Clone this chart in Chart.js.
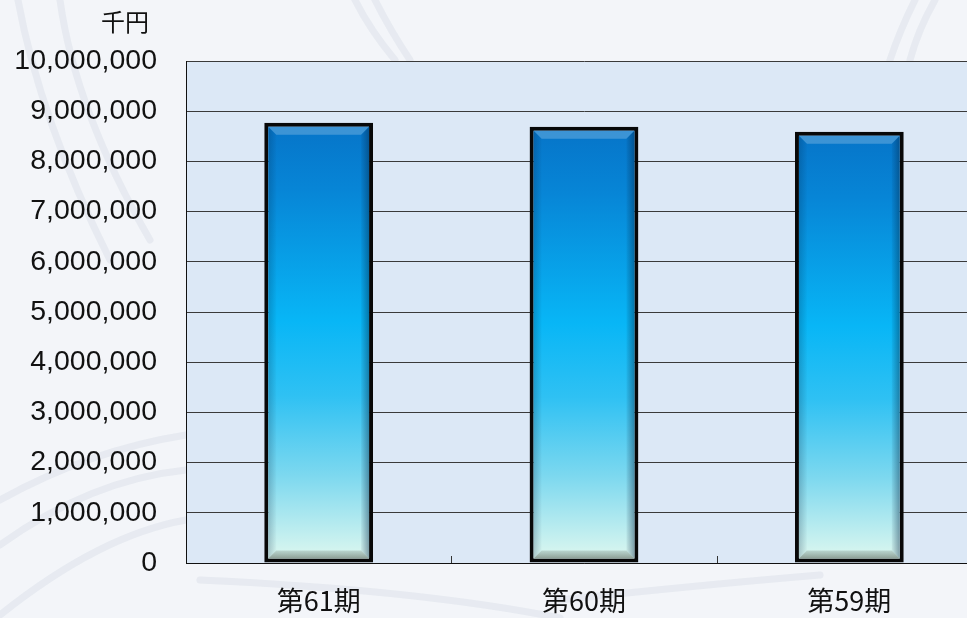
<!DOCTYPE html>
<html lang="ja">
<head>
<meta charset="utf-8">
<title>売上高推移</title>
<script src="https://cdn.jsdelivr.net/npm/chart.js@4.4.0/dist/chart.umd.min.js"></script>
<style>
  html, body { margin: 0; padding: 0; background: #f3f5f9; overflow: hidden; }
  #wrap { position: absolute; left: 0; top: 0; width: 990px; height: 618px; }
</style>
</head>
<body>
<div id="wrap"><canvas id="salesChart"></canvas></div>
<script>
// データ (千円)
const periods = ["第61期", "第60期", "第59期"];
const sales = [8770000, 8690000, 8590000];
const unitLabel = "千円";
const yMin = 0;
const yMax = 10000000;
const yStep = 1000000;

// 背景の薄い曲線 (飾り)
function drawSwirls(ctx) {
  ctx.lineCap = "round";
  ctx.strokeStyle = "rgba(170, 180, 200, 0.16)";
  ctx.lineWidth = 7;
  const curve = (x0, y0, cx, cy, x1, y1) => {
    ctx.beginPath(); ctx.moveTo(x0, y0); ctx.quadraticCurveTo(cx, cy, x1, y1); ctx.stroke();
  };
  curve(18, 0, 40, 120, 110, 260);
  curve(60, 0, 75, 110, 150, 240);
  curve(355, 0, 370, 30, 395, 60);
  curve(375, 0, 390, 30, 410, 60);
  curve(890, 60, 900, 30, 915, 0);
  curve(910, 60, 918, 30, 935, 0);
  curve(0, 500, 90, 450, 186, 435);
  curve(0, 545, 90, 480, 186, 470);
  curve(0, 615, 100, 535, 186, 520);
  curve(200, 580, 420, 590, 560, 618);
  curve(560, 600, 700, 585, 820, 575);
}

// 背景 (ページ全体 + プロットエリア)
const backgroundPlugin = {
  id: "backgroundPlugin",
  beforeDraw(chart) {
    const { ctx, chartArea } = chart;
    ctx.save();
    ctx.fillStyle = "#f3f5f9";
    ctx.fillRect(0, 0, chart.width, chart.height);
    drawSwirls(ctx);
    ctx.fillStyle = "#dce8f6";
    ctx.fillRect(chartArea.left, chartArea.top, chartArea.right - chartArea.left, chartArea.bottom - chartArea.top);
    ctx.restore();
  }
};

// 棒の立体感 (ベベル)
const bevelPlugin = {
  id: "bevelPlugin",
  afterDatasetsDraw(chart) {
    const ctx = chart.ctx;
    const bw = 4;
    const d = 8;
    chart.getDatasetMeta(0).data.forEach((el) => {
      const p = el.getProps(["x", "y", "base", "width"], true);
      const L = p.x - p.width / 2 + bw;
      const R = p.x + p.width / 2 - bw;
      const T = p.y + bw;
      const B = p.base - bw;
      ctx.save();

      ctx.fillStyle = "rgba(255, 255, 255, 0.22)";
      ctx.beginPath();
      ctx.moveTo(L, T); ctx.lineTo(R, T); ctx.lineTo(R - d, T + d); ctx.lineTo(L + d, T + d);
      ctx.closePath(); ctx.fill();

      let g = ctx.createLinearGradient(R - d, 0, R, 0);
      g.addColorStop(0, "rgba(0, 30, 60, 0.05)");
      g.addColorStop(1, "rgba(0, 30, 60, 0.4)");
      ctx.fillStyle = g;
      ctx.beginPath();
      ctx.moveTo(R, T); ctx.lineTo(R, B); ctx.lineTo(R - d, B - d); ctx.lineTo(R - d, T + d);
      ctx.closePath(); ctx.fill();

      g = ctx.createLinearGradient(L, 0, L + d, 0);
      g.addColorStop(0, "rgba(0, 30, 60, 0.22)");
      g.addColorStop(1, "rgba(0, 30, 60, 0.02)");
      ctx.fillStyle = g;
      ctx.beginPath();
      ctx.moveTo(L, T); ctx.lineTo(L + d, T + d); ctx.lineTo(L + d, B - d); ctx.lineTo(L, B);
      ctx.closePath(); ctx.fill();

      g = ctx.createLinearGradient(0, B - d, 0, B);
      g.addColorStop(0, "rgba(80, 90, 80, 0.2)");
      g.addColorStop(1, "rgba(60, 70, 60, 0.5)");
      ctx.fillStyle = g;
      ctx.beginPath();
      ctx.moveTo(L, B); ctx.lineTo(L + d, B - d); ctx.lineTo(R - d, B - d); ctx.lineTo(R, B);
      ctx.closePath(); ctx.fill();

      ctx.restore();
    });
  }
};

// 内向きの目盛り線と単位
const axisExtrasPlugin = {
  id: "axisExtrasPlugin",
  afterDraw(chart) {
    const { ctx, chartArea, scales } = chart;
    const x = scales.x;
    ctx.save();
    ctx.strokeStyle = "#333";
    ctx.lineWidth = 1;
    for (let i = 1; i <= periods.length; i++) {
      const px = Math.round((x.getPixelForValue(i - 1) + x.getPixelForValue(i)) / 2) + 0.5;
      ctx.beginPath();
      ctx.moveTo(px, chartArea.bottom);
      ctx.lineTo(px, chartArea.bottom - 7);
      ctx.stroke();
    }
    ctx.fillStyle = "#111";
    ctx.font = '24px "Noto Sans CJK JP"';
    ctx.textAlign = "right";
    ctx.textBaseline = "middle";
    ctx.fillText(unitLabel, chartArea.left - 37, chartArea.top - 39);
    ctx.restore();
  }
};

function barGradient(context) {
  const chart = context.chart;
  const { chartArea, scales } = chart;
  if (!chartArea) return "#0ab4f0";
  const y0 = scales.y.getPixelForValue(0);
  const y1 = scales.y.getPixelForValue(sales[context.dataIndex]);
  const g = chart.ctx.createLinearGradient(0, y1, 0, y0);
  g.addColorStop(0, "#0674c8");
  g.addColorStop(0.15, "#0785d6");
  g.addColorStop(0.45, "#08b6f6");
  g.addColorStop(0.62, "#2fc1f3");
  g.addColorStop(0.8, "#7cd8ef");
  g.addColorStop(1, "#e2f9ef");
  return g;
}

const ctx = document.getElementById("salesChart").getContext("2d");
new Chart(ctx, {
  type: "bar",
  data: {
    labels: periods,
    datasets: [{
      data: sales,
      backgroundColor: barGradient,
      borderColor: "#080808",
      borderWidth: 4,
      borderSkipped: false,
      barPercentage: 0.41,
      categoryPercentage: 1.0,
    }]
  },
  options: {
    responsive: true,
    maintainAspectRatio: false,
    animation: false,
    layout: { padding: { top: 61, right: 8, left: 0, bottom: 0 } },
    plugins: {
      legend: { display: false },
      tooltip: { enabled: false },
    },
    scales: {
      x: {
        grid: { display: false, drawTicks: false },
        border: { display: true, color: "#111", width: 1 },
        ticks: {
          color: "#111",
          padding: 22,
          font: { family: '"Noto Sans CJK JP"', size: 27 },
        },
        afterFit(scale) { scale.height = 55; },
      },
      y: {
        min: yMin,
        max: yMax,
        grid: { color: "#3a3a3a", lineWidth: 1, drawTicks: false },
        border: { display: true, color: "#111", width: 1 },
        ticks: {
          stepSize: yStep,
          color: "#111",
          padding: 29,
          font: { family: '"Liberation Sans", Arial, sans-serif', size: 28.5 },
          callback: (v) => Number(v).toLocaleString("en-US"),
        },
        afterFit(scale) { scale.width = 186; },
      }
    }
  },
  plugins: [backgroundPlugin, bevelPlugin, axisExtrasPlugin]
});
</script>
</body>
</html>
